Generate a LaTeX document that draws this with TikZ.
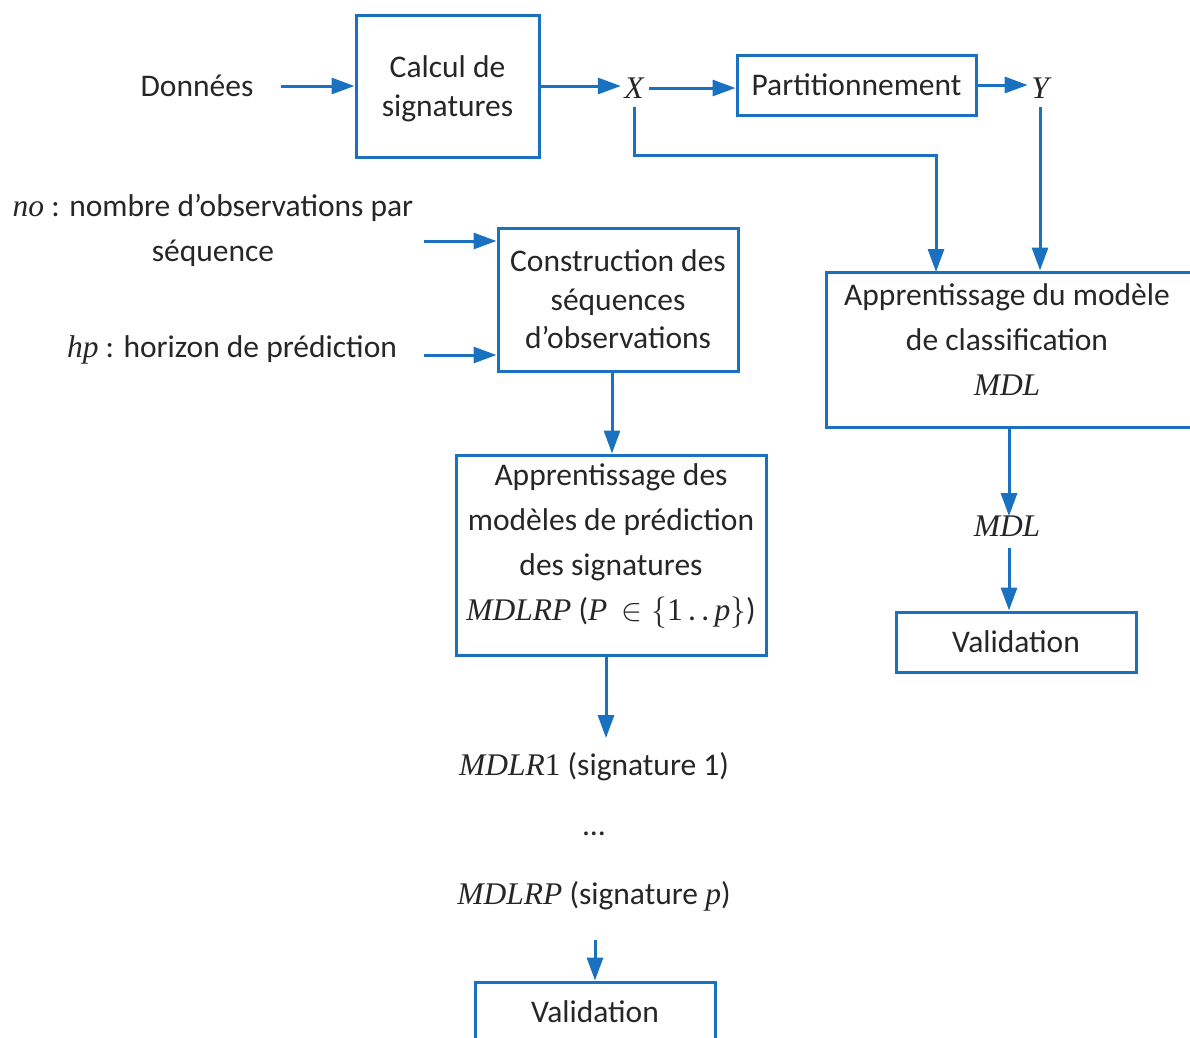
\RequirePackage{fix-cm}
\documentclass[tikz,border=0pt]{standalone}
\usepackage{fontspec}
\setmainfont{Carlito}
\newfontfamily\mfont{Liberation Serif}
\newcommand\mi[1]{{\mfont\itshape #1}}
\newcommand\mup[1]{{\mfont #1}}
\usetikzlibrary{arrows.meta,calc}
\definecolor{lblue}{RGB}{25,113,192}
\definecolor{ink}{RGB}{38,38,38}
\begin{document}
\begin{tikzpicture}[x=1pt,y=-1pt,
  every node/.style={text=ink, font=\fontsize{31.5}{38.5}\selectfont},
  box/.style={draw=lblue, line width=3pt, inner sep=0pt, align=center},
  wide/.style={font=\fontsize{31.5}{45}\selectfont, align=center},
  arr/.style={draw=lblue, line width=3pt, -{Triangle[length=23pt,width=16pt]}},
  ln/.style={draw=lblue, line width=3pt}]
\useasboundingbox (0,0) rectangle (1190,1037);

% top row
\node (don) at (197,86) {Données};
\node[box, minimum width=183, minimum height=142] (calc) at (447.5,86) {};
\node[align=center] (calctext) at (447.5,89) {Calcul de\\signatures};
\node (X) at (634,88) {\mi{X}};
\node[box, minimum width=239, minimum height=60] (part) at (856.5,85) {Partitionnement};
\node (Y) at (1040,88) {\mi{Y}};

\draw[arr, shorten <=24pt] (don.east) -- (calc.west);
\draw[arr] (calc.east) -- (calc.east -| X.west);
\draw[arr, shorten <=2pt] (X.east) -- (X.east -| part.west);
\draw[arr] (part.east) -- (part.east -| Y.west);

% classification branch
\node[box, minimum width=366, minimum height=155] (cls) at (1009,349.5) {};
\node[wide] (clstext) at (1007,340) {Apprentissage du modèle\\de classification\\\mi{MDL}};
\coordinate (bend) at (936,155);
\coordinate (cx) at (936,272);
\draw[arr, shorten <=5pt] (X.south) |- (bend) -- (cx);
\draw[arr, shorten <=5pt] (Y.south) -- (Y.south |- cls.north);

\node (mdl) at (1007,526) {\mi{MDL}};
\node[box, minimum width=240, minimum height=60] (val2) at (1016,642) {Validation};
\draw[arr] (cls.south) -- ([yshift=-4pt]cls.south |- mdl.north);
\draw[arr, shorten <=8pt] (cls.south |- mdl.south) -- (cls.south |- val2.north);

% sequence branch
\node[align=center, font=\fontsize{31.5}{45}\selectfont] (no) at (213,230) {\mi{no} : nombre d’observations par\\séquence};
\node (hp) at (232,350) {\mi{hp} : horizon de prédiction};
\node[box, minimum width=240, minimum height=143] (cons) at (618,299.5) {Construction des\\séquences\\d’observations};
\coordinate (noout) at (424,241);
\coordinate (hpout) at (424,355);
\draw[arr] (noout) -- (noout -| cons.west);
\draw[arr] (hpout) -- (hpout -| cons.west);

\node[box, minimum width=310, minimum height=200] (app) at (611,555) {};
\node[wide] (apptext) at (611,546) {Apprentissage des\\modèles de prédiction\\des signatures\\\mi{MDLRP} (\mi{P}\ \ $\in\{$\mup{1}\,.\,.\,\mi{p}$\}$)};
\draw[arr] ([xshift=1pt]cons.south -| app.north) -- ([xshift=1pt]app.north);

\node (r1) at (594,767) {\mi{MDLR}\mup{1} (signature 1)};
\node (dots) at (594,834) {…};
\node (rp) at (594,896) {\mi{MDLRP} (signature \mi{p})};
\node[box, minimum width=240, minimum height=60] (val1) at (595,1012) {Validation};
\coordinate (appout) at (606,655);
\draw[arr] (appout) -- (appout |- 0,738);
\coordinate (rpout) at (595,940);
\draw[arr] (rpout) -- (rpout |- val1.north);
\end{tikzpicture}
\end{document}
